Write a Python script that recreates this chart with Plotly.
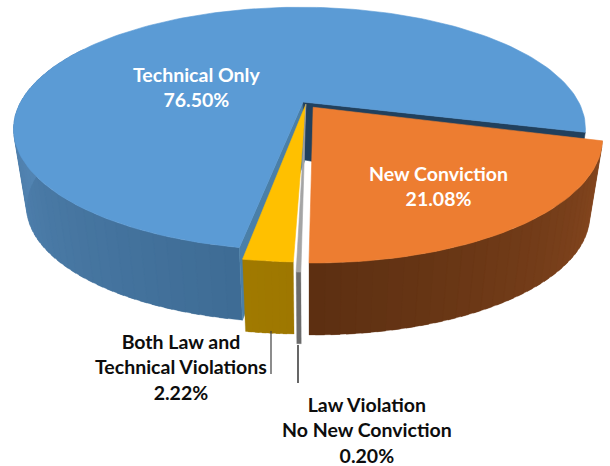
import math
import plotly.graph_objects as go

categories = ["Technical Only", "New Conviction", "Law Violation<br>No New Conviction", "Both Law and<br>Technical Violations"]
values = [76.50, 21.08, 0.20, 2.22]
labels = ["Technical Only<br>76.50%", "New Conviction<br>21.08%", "Law Violation<br>No New Conviction<br>0.20%", "Both Law and<br>Technical Violations<br>2.22%"]
top_colors = ["#5b9bd5", "#ed7d31", "#a5a5a5", "#ffc000"]
side_left = ["#3e6c95", "#86471f", "#6b6b6b", "#9e7700"]
side_right = ["#5a8dbd", "#5c2f11", "#6b6b6b", "#a07a00"]

# Projection parameters of the tilted disc (pixel canvas)
CX, CY, A, B, K = 303, 102, 279, 115.6, 0.2296
VP = (310, 1900)
DEPTH = 0.044
START = 189.5
rim_shift = [(-0.012, 0.01), (0.03, -0.055), (0.008, -0.10), (0.0, -0.05)]
apex_shift = [(0, 0), (0.036, -0.045), (0.010, -0.02), (0.010, -0.02)]


def proj(u, v):
    w = 1 + K * v
    return CX + A * u / w, CY - B * v / w


def rim(deg, s):
    r = math.radians(deg)
    return proj(math.sin(r) + s[0], math.cos(r) + s[1])


def drop(p, f=DEPTH):
    return p[0] + f * (VP[0] - p[0]), p[1] + f * (VP[1] - p[1])


def lerp(c1, c2, t):
    a = [int(c1[i:i + 2], 16) for i in (1, 3, 5)]
    b = [int(c2[i:i + 2], 16) for i in (1, 3, 5)]
    return "#%02x%02x%02x" % tuple(round(x + (y - x) * t) for x, y in zip(a, b))


fig = go.Figure()


def poly(pts, color, lw=0.6):
    xs = [p[0] for p in pts] + [pts[0][0]]
    ys = [p[1] for p in pts] + [pts[0][1]]
    fig.add_trace(go.Scatter(x=xs, y=ys, mode="lines", fill="toself", fillcolor=color,
                             line=dict(color=color, width=lw), hoverinfo="skip", showlegend=False))


# slice angle spans derived from values
total = sum(values)
spans = []
ang = START
for val in values:
    spans.append((ang, ang + val / total * 360))
    ang += val / total * 360


def side(i, a0, a1, step):
    n = max(1, int((a1 - a0) / step))
    for j in range(n):
        d0 = a0 + (a1 - a0) * j / n
        d1 = a0 + (a1 - a0) * (j + 1.6) / n if j < n - 1 else a1
        p0, p1 = rim(d0, rim_shift[i]), rim(d1, rim_shift[i])
        poly([p0, p1, drop(p1), drop(p0)], lerp(side_left[i], side_right[i], (j + .5) / n), 0.3)


def top(i):
    a0, a1 = spans[i]
    n = max(2, int((a1 - a0) / 1.5))
    arc = [rim(a0 + (a1 - a0) * j / n, rim_shift[i]) for j in range(n + 1)]
    s = apex_shift[i]
    poly([proj(s[0], s[1])] + arc, top_colors[i])


# blue slice: outer wall, inner walls, top face
side(0, spans[0][0], 300, 2.5)
apex = proj(0, 0)
apex_low = (apex[0] + 2, 160)
pb, pc = rim(spans[0][0], rim_shift[0]), rim(spans[0][1], rim_shift[0])
poly([apex, pb, drop(pb), apex_low], "#4a7fa8")
poly([apex, pc, drop(pc), apex_low], "#21405d")
top(0)
# orange slice
side(1, spans[1][0], spans[1][1], 2.5)
top(1)
# yellow slice
side(3, spans[3][0], spans[3][1], 1)
top(3)
# grey slice
side(2, spans[2][0], spans[2][1], 1)
top(2)

# leader lines
for lx, ly, c in [([271, 271], [331, 374], "#404040"), ([298, 298], [345, 383], "#000000")]:
    fig.add_trace(go.Scatter(x=lx, y=ly, mode="lines", line=dict(color=c, width=1.2),
                             hoverinfo="skip", showlegend=False))

label_pos = [(196, 87, "#ffffff"), (438, 186, "#ffffff"), (367, 430, "#0d0d0d"), (181, 367, "#0d0d0d")]
for text, (x, y, c) in zip(labels, label_pos):
    fig.add_annotation(x=x, y=y, text=text, showarrow=False, align="center", xanchor="center", yanchor="middle",
                       font=dict(family="Lato", size=19.5, color=c, weight="bold"))

fig.update_layout(width=610, height=466, margin=dict(l=0, r=0, t=0, b=0),
                  paper_bgcolor="#ffffff", plot_bgcolor="#ffffff", showlegend=False,
                  xaxis=dict(range=[0, 610], visible=False, fixedrange=True),
                  yaxis=dict(range=[466, 0], visible=False, fixedrange=True))
fig.write_html("out.html", post_script="document.body.style.margin='0';", config={"displayModeBar": False})
